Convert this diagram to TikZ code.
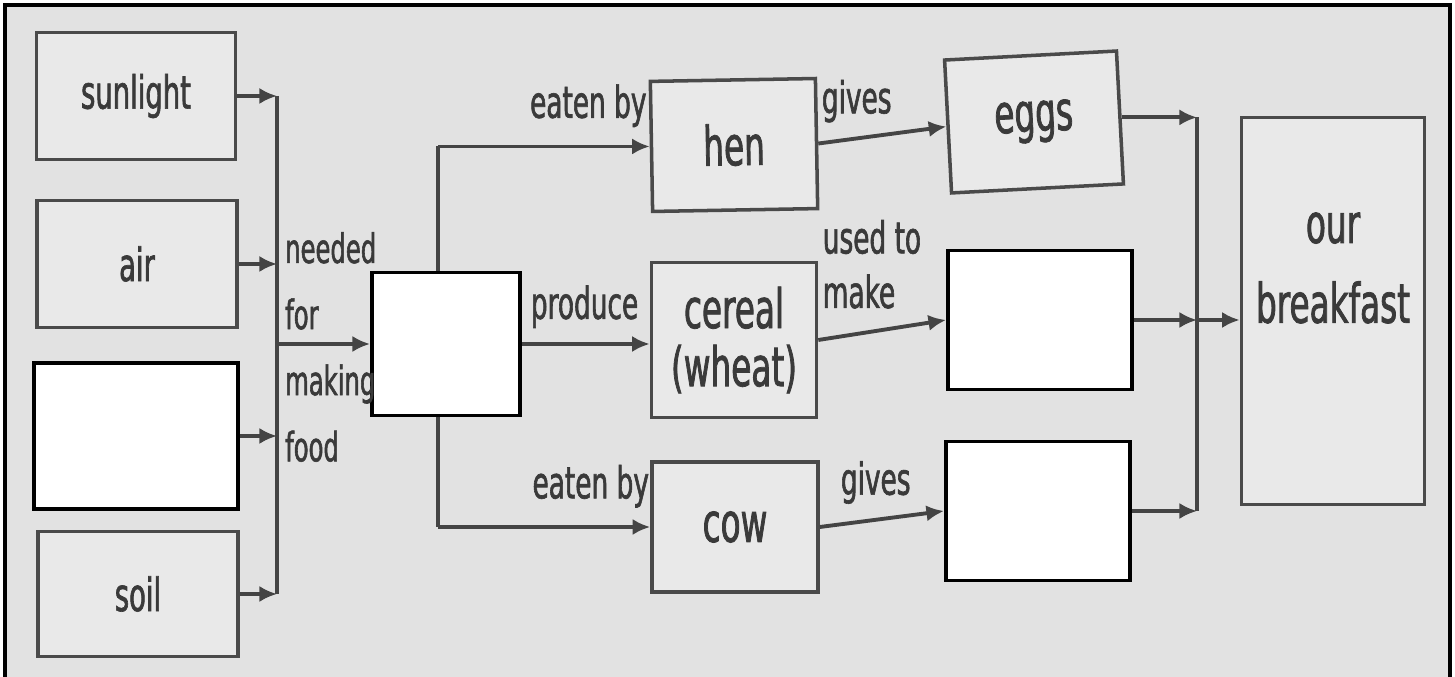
\documentclass[tikz,border=0pt]{standalone}
\usepackage{fontspec}
\setmainfont[FakeStretch=0.6, FakeBold=1.4]{DejaVu Sans}
\usetikzlibrary{arrows.meta}

\definecolor{paper}{HTML}{E2E2E2}
\definecolor{boxfill}{HTML}{E9E9E9}
\definecolor{boxline}{HTML}{4A4A4A}
\definecolor{ink}{HTML}{3A3A3A}
\definecolor{arrowgray}{HTML}{444444}

\tikzset{
  box/.style={draw=boxline, fill=boxfill, line width=1pt, text=ink,
    align=center, font=\fontsize{13}{15}\selectfont},
  bigbox/.style={box, font=\fontsize{15.5}{16.5}\selectfont},
  blank/.style={draw=black, fill=white, line width=1.1pt},
  flow/.style={draw=arrowgray, line width=1.1pt, -{Latex[length=5pt,width=4.6pt]}},
  bar/.style={draw=arrowgray, line width=1.1pt},
  lbl/.style={text=ink, font=\fontsize{12.5}{18.8}\selectfont, inner sep=1pt, align=left}
}

\begin{document}
\begin{tikzpicture}[x=0.01cm, y=-0.01cm]

    % frame and background
    \useasboundingbox (0,0) rectangle (1455,677);
    \fill[paper] (5,5) rectangle (1450,677);
    \draw[line width=1.2pt] (5,677) -- (5,5) -- (1450,5) -- (1450,677);

    % left column
    \node[box, minimum width=1.99cm, minimum height=1.27cm] (sun) at (136,96) {sunlight};
    \node[box, minimum width=2.00cm, minimum height=1.27cm] (air) at (137,264) {air};
    \node[blank, minimum width=2.04cm, minimum height=1.46cm] (blankA) at (136,436) {};
    \node[box, minimum width=2.00cm, minimum height=1.25cm] (soil) at (138,594) {soil};

    % middle column
    \node[bigbox, minimum width=1.65cm, minimum height=1.30cm, rotate=1] (hen) at (734,145) {hen};
    \node[bigbox, minimum width=1.65cm, minimum height=1.55cm] (cereal) at (734,340) {cereal\\(wheat)};
    \node[bigbox, minimum width=1.66cm, minimum height=1.30cm] (cow) at (735,527) {cow};

    % right column
    \node[bigbox, minimum width=1.72cm, minimum height=1.33cm, rotate=3] (eggs) at (1034,122) {eggs};
    \node[blank, minimum width=1.84cm, minimum height=1.39cm] (blankC) at (1040,320) {};
    \node[blank, minimum width=1.84cm, minimum height=1.39cm] (blankD) at (1038,511) {};

    % breakfast
    \node[bigbox, minimum width=1.83cm, minimum height=3.87cm] (brk) at (1333,311) {};
    \node[text=ink, align=center, font=\fontsize{15.5}{22.7}\selectfont] (brktext) at (1333,268) {our\\breakfast};

    % junctions
    \coordinate (jl) at (277,344);
    \coordinate (jm) at (438,344);
    \coordinate (jr) at (1197,320);

    % branches (bar runs behind the plant box)
    \draw[bar] (hen.west -| jm) -- (cow.west -| jm);
    \draw[flow] (hen.west -| jm) -- node[lbl, above=4pt, pos=0.71] (eat1) {eaten by} (hen.west);
    \draw[flow] (cow.west -| jm) -- node[lbl, above=4pt, pos=0.72] (eat2) {eaten by} (cow.west);

    % plant (blank)
    \node[blank, minimum width=1.48cm, minimum height=1.43cm] (plant) at (446,344) {};
    \draw[flow] (plant.east) -- node[lbl, above=3pt, pos=0.49] (prod) {produce} (plant.east -| cereal.west);

    % inputs
    \foreach \b in {sun,air,blankA,soil}
        \draw[flow] (\b.east) -- (\b.east -| jl);
    \draw[bar] (sun.east -| jl) -- (soil.east -| jl);
    \draw[flow] (jl) -- (plant.west);
    \node[lbl, anchor=north west, font=\fontsize{11.5}{18.8}\selectfont] (need) at (281,228) {needed\\for\\making\\food};

    % products
    \draw[flow] (hen.east) -- node[lbl, above=3pt, pos=0.3] (give1) {gives} (eggs.west);
    \draw[flow] (cereal.east) -- node[lbl, above=5pt, pos=0.42, font=\fontsize{12.5}{15.5}\selectfont] (used) {used to\\make} (blankC.west);
    \draw[flow] (cow.east) -- node[lbl, above=3pt, pos=0.45] (give2) {gives} (blankD.west);

    % to breakfast
    \foreach \b in {eggs,blankC,blankD}
        \draw[flow] (\b.east) -- (\b.east -| jr);
    \draw[bar] (eggs.east -| jr) -- (blankD.east -| jr);
    \draw[flow] (jr) -- (jr -| brk.west);

\end{tikzpicture}
\end{document}
